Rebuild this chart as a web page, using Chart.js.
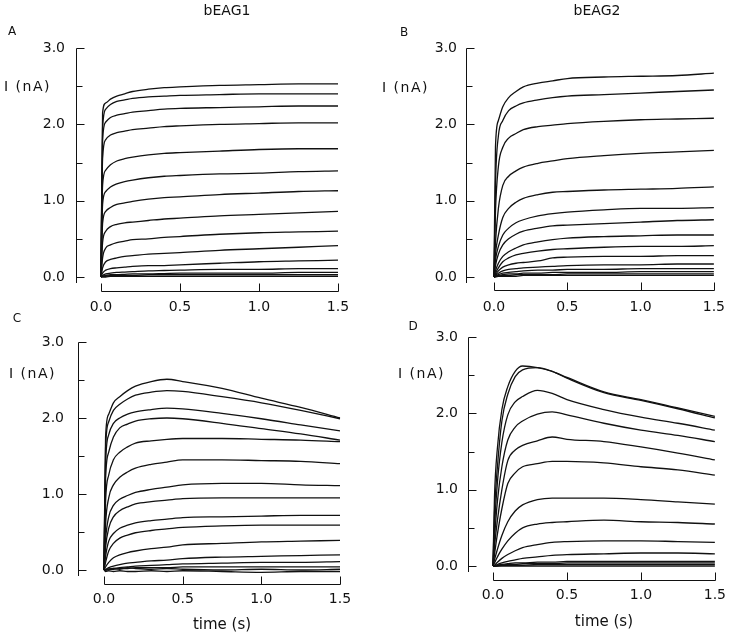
<!DOCTYPE html>
<html>
<head>
<meta charset="utf-8">
<title>bEAG1 / bEAG2 currents</title>
<script src="https://cdn.jsdelivr.net/npm/chart.js@4.4.0/dist/chart.umd.min.js"></script>
<style>
  html, body { margin: 0; padding: 0; background: #fff; }
  #fig { position: relative; width: 747px; height: 636px; overflow: hidden;
         font-family: "DejaVu Sans", sans-serif; color: #111; }
  #fig canvas { position: absolute; left: 0; top: 0; }
  .lbl { position: absolute; font-size: 14px; line-height: 16px; white-space: pre; }
  .ctr { transform: translate(-50%, -50%); }
  .letter { font-size: 12px; }
  .ylab { transform: translateY(-50%); letter-spacing: 1.5px; }
</style>
</head>
<body>
<div id="fig">
  <canvas id="panel-a" width="747" height="636"></canvas>
  <canvas id="panel-b" width="747" height="636"></canvas>
  <canvas id="panel-c" width="747" height="636"></canvas>
  <canvas id="panel-d" width="747" height="636"></canvas>

  <div class="lbl ctr" style="left:227px;top:10px">bEAG1</div>
  <div class="lbl ctr" style="left:597px;top:10px">bEAG2</div>
  <div class="lbl ctr letter" style="left:12px;top:31px">A</div>
  <div class="lbl ctr letter" style="left:404px;top:32px">B</div>
  <div class="lbl ctr letter" style="left:17px;top:318px">C</div>
  <div class="lbl ctr letter" style="left:413px;top:326px">D</div>
  <div class="lbl ylab" style="left:4px;top:86px">I (nA)</div>
  <div class="lbl ylab" style="left:382px;top:87px">I (nA)</div>
  <div class="lbl ylab" style="left:9px;top:373px">I (nA)</div>
  <div class="lbl ylab" style="left:398px;top:373px">I (nA)</div>
</div>
<script>
"use strict";

const TIME = [0, 0.01, 0.03, 0.06, 0.1, 0.15, 0.2, 0.3, 0.4, 0.5, 0.75, 1.0, 1.25, 1.5];

const X_TICKS = [0, 0.5, 1.0, 1.5];
const Y_MAJOR = [0, 1, 2, 3];
const Y_MINOR = [0.5, 1.5, 2.5];

// A: bEAG1, current (nA)
const A_TRACES = [
  [0, 2.15, 2.28, 2.33, 2.37, 2.40, 2.43, 2.46, 2.48, 2.49, 2.51, 2.52, 2.53, 2.53],
  [0, 1.95, 2.20, 2.26, 2.30, 2.32, 2.34, 2.36, 2.37, 2.38, 2.39, 2.40, 2.40, 2.40],
  [0, 1.80, 2.03, 2.09, 2.12, 2.14, 2.16, 2.18, 2.20, 2.21, 2.22, 2.23, 2.24, 2.24],
  [0, 1.55, 1.80, 1.86, 1.89, 1.91, 1.93, 1.95, 1.97, 1.98, 2.00, 2.01, 2.02, 2.02],
  [0, 1.20, 1.40, 1.47, 1.52, 1.55, 1.57, 1.60, 1.62, 1.63, 1.65, 1.67, 1.68, 1.68],
  [0, 0.95, 1.12, 1.18, 1.22, 1.25, 1.27, 1.30, 1.32, 1.33, 1.35, 1.36, 1.38, 1.39],
  [0, 0.70, 0.86, 0.91, 0.95, 0.97, 0.99, 1.02, 1.04, 1.05, 1.08, 1.10, 1.12, 1.13],
  [0, 0.45, 0.60, 0.66, 0.69, 0.71, 0.72, 0.74, 0.76, 0.77, 0.80, 0.82, 0.84, 0.86],
  [0, 0.25, 0.38, 0.42, 0.45, 0.47, 0.49, 0.50, 0.52, 0.53, 0.56, 0.58, 0.59, 0.60],
  [0, 0.12, 0.20, 0.23, 0.25, 0.27, 0.28, 0.30, 0.31, 0.32, 0.35, 0.37, 0.39, 0.41],
  [0, 0.05, 0.09, 0.11, 0.12, 0.13, 0.14, 0.15, 0.15, 0.16, 0.18, 0.20, 0.21, 0.22],
  [0, 0.02, 0.04, 0.05, 0.06, 0.065, 0.07, 0.08, 0.085, 0.09, 0.10, 0.10, 0.11, 0.11],
  [0, 0.01, 0.02, 0.03, 0.03, 0.035, 0.04, 0.04, 0.045, 0.05, 0.05, 0.05, 0.06, 0.06],
  [0, 0.01, 0.01, 0.02, 0.02, 0.02, 0.02, 0.03, 0.03, 0.03, 0.03, 0.03, 0.03, 0.03],
  [0, 0, 0, 0.01, 0.01, 0.01, 0.01, 0.01, 0.01, 0.01, 0.01, 0.01, 0.01, 0.01],
];

// B: bEAG2
const B_TRACES = [
  [0, 1.70, 2.05, 2.23, 2.35, 2.43, 2.49, 2.54, 2.57, 2.60, 2.62, 2.63, 2.64, 2.67],
  [0, 1.20, 1.85, 2.05, 2.18, 2.24, 2.28, 2.32, 2.35, 2.37, 2.39, 2.41, 2.43, 2.45],
  [0, 0.85, 1.45, 1.70, 1.82, 1.88, 1.93, 1.97, 1.99, 2.01, 2.04, 2.06, 2.07, 2.08],
  [0, 0.45, 0.90, 1.20, 1.32, 1.39, 1.44, 1.49, 1.52, 1.55, 1.59, 1.62, 1.64, 1.66],
  [0, 0.30, 0.55, 0.78, 0.90, 0.98, 1.03, 1.08, 1.11, 1.12, 1.14, 1.15, 1.16, 1.18],
  [0, 0.22, 0.40, 0.55, 0.64, 0.71, 0.75, 0.80, 0.83, 0.85, 0.88, 0.90, 0.90, 0.91],
  [0, 0.15, 0.30, 0.42, 0.50, 0.56, 0.60, 0.64, 0.67, 0.68, 0.70, 0.72, 0.74, 0.75],
  [0, 0.08, 0.18, 0.27, 0.33, 0.38, 0.42, 0.46, 0.49, 0.51, 0.53, 0.54, 0.55, 0.55],
  [0, 0.05, 0.12, 0.20, 0.25, 0.29, 0.31, 0.34, 0.36, 0.37, 0.39, 0.40, 0.40, 0.41],
  [0, 0.03, 0.08, 0.13, 0.16, 0.18, 0.19, 0.21, 0.25, 0.26, 0.27, 0.27, 0.28, 0.28],
  [0, 0.02, 0.05, 0.08, 0.10, 0.11, 0.12, 0.13, 0.14, 0.15, 0.16, 0.16, 0.17, 0.17],
  [0, 0.01, 0.03, 0.05, 0.06, 0.07, 0.08, 0.09, 0.09, 0.10, 0.10, 0.11, 0.11, 0.11],
  [0, 0.01, 0.02, 0.03, 0.04, 0.04, 0.05, 0.05, 0.06, 0.06, 0.06, 0.07, 0.07, 0.07],
  [0, 0.01, 0.01, 0.02, 0.02, 0.03, 0.03, 0.03, 0.03, 0.04, 0.04, 0.04, 0.04, 0.04],
  [0, 0, 0.01, 0.01, 0.01, 0.01, 0.02, 0.02, 0.02, 0.02, 0.02, 0.02, 0.02, 0.02],
];

// C: bEAG1, second condition
const C_TRACES = [
  [0, 1.75, 2.05, 2.20, 2.28, 2.36, 2.42, 2.48, 2.51, 2.48, 2.39, 2.26, 2.14, 2.00],
  [0, 1.60, 1.95, 2.10, 2.18, 2.25, 2.30, 2.34, 2.36, 2.35, 2.28, 2.20, 2.10, 1.99],
  [0, 1.40, 1.78, 1.93, 2.00, 2.05, 2.08, 2.11, 2.13, 2.12, 2.06, 1.99, 1.91, 1.83],
  [0, 1.20, 1.55, 1.75, 1.87, 1.92, 1.96, 1.99, 2.00, 1.99, 1.93, 1.86, 1.79, 1.71],
  [0, 0.90, 1.25, 1.45, 1.55, 1.62, 1.67, 1.70, 1.72, 1.73, 1.73, 1.72, 1.71, 1.69],
  [0, 0.60, 0.95, 1.12, 1.22, 1.29, 1.34, 1.39, 1.42, 1.45, 1.45, 1.44, 1.43, 1.40],
  [0, 0.40, 0.70, 0.85, 0.93, 0.98, 1.02, 1.06, 1.09, 1.12, 1.14, 1.14, 1.12, 1.11],
  [0, 0.30, 0.55, 0.70, 0.78, 0.83, 0.87, 0.90, 0.92, 0.94, 0.95, 0.95, 0.95, 0.95],
  [0, 0.18, 0.38, 0.48, 0.55, 0.59, 0.62, 0.65, 0.67, 0.69, 0.70, 0.71, 0.72, 0.72],
  [0, 0.10, 0.25, 0.35, 0.42, 0.46, 0.49, 0.52, 0.54, 0.56, 0.58, 0.59, 0.59, 0.59],
  [0, 0.04, 0.10, 0.16, 0.20, 0.23, 0.25, 0.28, 0.30, 0.33, 0.35, 0.37, 0.38, 0.39],
  [0, 0.01, 0.03, 0.05, 0.07, 0.09, 0.10, 0.12, 0.13, 0.15, 0.17, 0.18, 0.19, 0.20],
  [0, 0, 0.01, 0.02, 0.03, 0.04, 0.05, 0.06, 0.07, 0.08, 0.09, 0.10, 0.10, 0.11],
  [0, 0, 0.01, 0.01, 0.02, 0.02, 0.03, 0.03, 0.03, 0.04, 0.04, 0.04, 0.04, 0.04],
  [0, 0, 0.01, 0.02, 0.01, 0.03, 0.02, 0.01, 0.02, 0.01, 0.00, 0.01, 0.00, 0.01],
  [0, -0.02, -0.01, -0.02, -0.01, -0.02, -0.02, -0.01, -0.02, -0.01, -0.02, -0.03, -0.02, -0.02],
];

// D: bEAG2, second condition
const D_TRACES = [
  [0, 0.90, 1.55, 2.05, 2.35, 2.55, 2.62, 2.60, 2.55, 2.47, 2.28, 2.18, 2.07, 1.96],
  [0, 0.70, 1.30, 1.90, 2.25, 2.48, 2.57, 2.60, 2.55, 2.46, 2.27, 2.17, 2.06, 1.94],
  [0, 0.50, 1.10, 1.62, 1.98, 2.15, 2.22, 2.30, 2.26, 2.18, 2.05, 1.95, 1.87, 1.78],
  [0, 0.35, 0.85, 1.30, 1.65, 1.82, 1.90, 1.99, 2.02, 1.98, 1.87, 1.78, 1.71, 1.63],
  [0, 0.25, 0.60, 1.00, 1.38, 1.52, 1.58, 1.64, 1.69, 1.66, 1.63, 1.56, 1.48, 1.39],
  [0, 0.15, 0.42, 0.75, 1.08, 1.22, 1.30, 1.34, 1.37, 1.37, 1.35, 1.30, 1.26, 1.19],
  [0, 0.08, 0.22, 0.40, 0.58, 0.72, 0.80, 0.87, 0.89, 0.89, 0.89, 0.87, 0.84, 0.81],
  [0, 0.04, 0.12, 0.22, 0.33, 0.43, 0.50, 0.55, 0.57, 0.58, 0.60, 0.58, 0.57, 0.55],
  [0, 0.01, 0.05, 0.10, 0.15, 0.20, 0.24, 0.28, 0.31, 0.32, 0.33, 0.33, 0.32, 0.31],
  [0, 0, 0.02, 0.04, 0.06, 0.08, 0.10, 0.12, 0.14, 0.15, 0.16, 0.17, 0.17, 0.16],
  [0, 0, 0.01, 0.02, 0.03, 0.04, 0.04, 0.05, 0.05, 0.06, 0.06, 0.06, 0.06, 0.06],
  [0, 0, 0.01, 0.01, 0.02, 0.02, 0.03, 0.03, 0.03, 0.04, 0.04, 0.04, 0.04, 0.04],
  [0, 0, 0, 0.01, 0.01, 0.01, 0.01, 0.02, 0.02, 0.02, 0.02, 0.02, 0.02, 0.02],
  [0, 0, 0, 0, 0, 0, 0, 0, 0, 0, 0, 0, 0, 0],
];

const FONT = { family: '"DejaVu Sans", sans-serif', size: 14 };
const INK = "#111";
const FIG_W = 747, FIG_H = 636;
const Y_SCALE_W = 80;

/* Page-pixel placement of each panel's data box (x 0..1.5 s, y 0..3 nA). */
const PANELS = [
  { id: "panel-a", traces: A_TRACES, x0: 101, x1: 338, top: 48,  zero: 277, gapLeft: 25, gapBottom: 14, yPad: 36, xPad: 22, xScaleH: 50 },
  { id: "panel-b", traces: B_TRACES, x0: 494, x1: 724, top: 48,  zero: 277, gapLeft: 28, gapBottom: 13, yPad: 37, xPad: 22, xScaleH: 50 },
  { id: "panel-c", traces: C_TRACES, x0: 104, x1: 340, top: 342, zero: 570, gapLeft: 26, gapBottom: 14, yPad: 40, xPad: 21, xScaleH: 66, title: "time (s)", titlePad: 2 },
  { id: "panel-d", traces: D_TRACES, x0: 493, x1: 732, top: 337, zero: 566, gapLeft: 25, gapBottom: 14, yPad: 35, xPad: 21, xScaleH: 70, title: "time (s)", titlePad: 5 },
];

// Detached axis lines with inward ticks, drawn from the chart's own scales.
const axisFrame = {
  id: "axisFrame",
  afterDraw(chart, args, opts) {
    const { ctx, chartArea } = chart;
    const xs = chart.scales.x, ys = chart.scales.y;
    const snap = (v) => Math.round(v) + 0.5;
    const ax = snap(chartArea.left - opts.gapLeft);
    const ay = snap(chartArea.bottom + opts.gapBottom);
    ctx.save();
    ctx.strokeStyle = INK;
    ctx.lineWidth = 1;
    ctx.beginPath();
    ctx.moveTo(ax, snap(ys.getPixelForValue(3)));
    ctx.lineTo(ax, ys.getPixelForValue(0) + 6);
    Y_MAJOR.forEach((v) => {
      const py = snap(ys.getPixelForValue(v));
      ctx.moveTo(ax, py);
      ctx.lineTo(ax + 8, py);
    });
    Y_MINOR.forEach((v) => {
      const py = snap(ys.getPixelForValue(v));
      ctx.moveTo(ax, py);
      ctx.lineTo(ax + 6, py);
    });
    ctx.moveTo(snap(xs.getPixelForValue(0)), ay);
    ctx.lineTo(snap(xs.getPixelForValue(1.5)), ay);
    X_TICKS.forEach((v) => {
      const px = snap(xs.getPixelForValue(v));
      ctx.moveTo(px, ay);
      ctx.lineTo(px, ay - 8);
    });
    ctx.stroke();
    ctx.restore();
  },
};

function makePanel(p) {
  const datasets = p.traces.map((vals) => ({
    data: vals,
    borderColor: INK,
    borderWidth: 1.3,
    pointRadius: 0,
    fill: false,
    clip: false,
    cubicInterpolationMode: "monotone",
  }));
  new Chart(document.getElementById(p.id), {
    type: "line",
    data: { labels: TIME, datasets },
    plugins: [axisFrame],
    options: {
      responsive: false,
      animation: false,
      events: [],
      layout: {
        padding: {
          left: p.x0 - Y_SCALE_W,
          right: FIG_W - p.x1,
          top: p.top,
          bottom: FIG_H - p.zero - p.xScaleH,
        },
      },
      plugins: {
        legend: { display: false },
        tooltip: { enabled: false },
        axisFrame: { gapLeft: p.gapLeft, gapBottom: p.gapBottom },
      },
      scales: {
        x: {
          type: "linear",
          min: 0,
          max: 1.5,
          afterFit: (s) => { s.height = p.xScaleH; },
          afterBuildTicks: (s) => { s.ticks = X_TICKS.map((v) => ({ value: v })); },
          grid: { display: false, drawTicks: false },
          border: { display: false },
          ticks: { padding: p.xPad, color: INK, font: FONT, maxRotation: 0, callback: (v) => v.toFixed(1) },
          title: {
            display: !!p.title,
            text: p.title || "",
            color: INK,
            font: { family: FONT.family, size: 15 },
            padding: { top: 0, bottom: p.titlePad || 0 },
          },
        },
        y: {
          min: 0,
          max: 3,
          afterFit: (s) => { s.width = Y_SCALE_W; },
          afterBuildTicks: (s) => { s.ticks = Y_MAJOR.map((v) => ({ value: v })); },
          grid: { display: false, drawTicks: false },
          border: { display: false },
          ticks: { padding: p.yPad, color: INK, font: FONT, callback: (v) => v.toFixed(1) },
        },
      },
    },
  });
}

PANELS.forEach(makePanel);
</script>
</body>
</html>
